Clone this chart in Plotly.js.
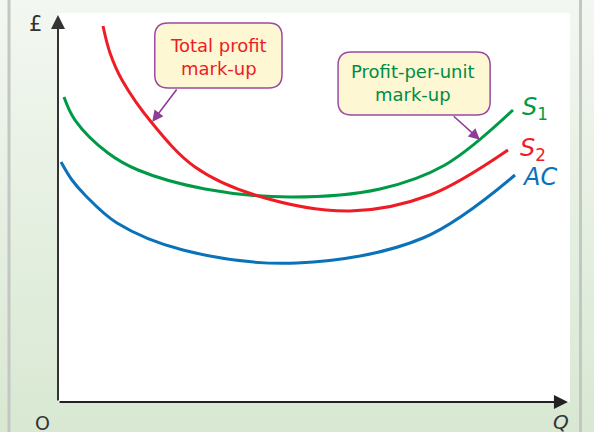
<!DOCTYPE html>
<html>
<head>
<meta charset="utf-8">
<script src="https://cdn.plot.ly/plotly-3.0.1.min.js"></script>
<style>
  body { margin: 0; background: #f6f8f5; }
  #chart { width: 594px; height: 432px; background: linear-gradient(to bottom, #f3f7f1, #d8e8d2); }
</style>
</head>
<body>
<div id="chart"></div>
<script>
// curve points (Q on x, £ on y, both 0-100)
var qS1 = [1.17, 3.32, 9.77, 15.63, 28.71, 45.31, 62.89, 75.59, 88.87];
var pS1 = [78.41, 72.49, 64.01, 59.64, 54.76, 52.70, 54.76, 60.93, 75.06];

var qS2 = [8.79, 10.16, 12.50, 18.36, 26.76, 38.48, 57.03, 72.66, 87.89];
var pS2 = [96.66, 89.72, 82.78, 71.72, 60.41, 53.21, 49.10, 53.21, 64.78];

var qAC = [0.59, 2.73, 5.27, 11.52, 24.41, 46.68, 71.29, 89.26];
var pAC = [61.70, 57.07, 53.21, 46.02, 39.07, 35.73, 42.16, 58.35];

var curveNames = ["S", "S", "AC"];
var curveSubs = ["1", "2", ""];
var curveColors = ["#009a46", "#ee1c25", "#0a72b8"];
var calloutText = ["Total profit<br>mark-up", "Profit-per-unit<br>mark-up"];
var calloutColors = ["#ee1c25", "#008c45"];

var purple = "#8e3d97";

function roundRect(x0, x1, y0, y1, rx, ry) {
  return "M" + (x0 + rx) + "," + y1 +
    " L" + (x1 - rx) + "," + y1 +
    " Q" + x1 + "," + y1 + " " + x1 + "," + (y1 - ry) +
    " L" + x1 + "," + (y0 + ry) +
    " Q" + x1 + "," + y0 + " " + (x1 - rx) + "," + y0 +
    " L" + (x0 + rx) + "," + y0 +
    " Q" + x0 + "," + y0 + " " + x0 + "," + (y0 + ry) +
    " L" + x0 + "," + (y1 - ry) +
    " Q" + x0 + "," + y1 + " " + (x0 + rx) + "," + y1 + " Z";
}

function curveLabel(i) {
  var t = "<i>" + curveNames[i] + "</i>";
  if (curveSubs[i]) t += "<sub>" + curveSubs[i] + "</sub>";
  return t;
}

var traces = [
  {x: qS1, y: pS1, mode: "lines", line: {color: curveColors[0], width: 3, shape: "spline", smoothing: 1}},
  {x: qS2, y: pS2, mode: "lines", line: {color: curveColors[1], width: 3, shape: "spline", smoothing: 1}},
  {x: qAC, y: pAC, mode: "lines", line: {color: curveColors[2], width: 3, shape: "spline", smoothing: 1}}
];

var font = "DejaVu Sans, sans-serif";

var annotations = [
  // axes with arrow heads
  {x: 0, y: 99.5, ax: 0, ay: 0, xref: "x", yref: "y", axref: "x", ayref: "y", text: "",
   showarrow: true, arrowhead: 2, arrowsize: 1.4, arrowwidth: 2, arrowcolor: "#333", standoff: 0},
  {x: 99.6, y: 0, ax: 0, ay: 0, xref: "x", yref: "y", axref: "x", ayref: "y", text: "",
   showarrow: true, arrowhead: 2, arrowsize: 1.4, arrowwidth: 2, arrowcolor: "#222", standoff: 0},
  // axis labels
  {x: -0.043, y: 0.972, xref: "paper", yref: "paper", text: "£", showarrow: false,
   xanchor: "center", yanchor: "middle", font: {family: font, size: 21, color: "#333"}},
  {x: -0.031, y: -0.055, xref: "paper", yref: "paper", text: "O", showarrow: false,
   xanchor: "center", yanchor: "middle", font: {family: font, size: 19, color: "#333"}},
  {x: 0.982, y: -0.052, xref: "paper", yref: "paper", text: "<i>Q</i>", showarrow: false,
   xanchor: "center", yanchor: "middle", font: {family: font, size: 20, color: "#333"}},
  // curve labels
  {x: 90.2, y: 75.4, xref: "x", yref: "y", text: curveLabel(0), showarrow: false,
   xanchor: "left", yanchor: "middle", font: {family: font, size: 24, color: curveColors[0]}},
  {x: 89.8, y: 64.8, xref: "x", yref: "y", text: curveLabel(1), showarrow: false,
   xanchor: "left", yanchor: "middle", font: {family: font, size: 24, color: curveColors[1]}},
  {x: 90.2, y: 57.8, xref: "x", yref: "y", text: curveLabel(2), showarrow: false,
   xanchor: "left", yanchor: "middle", font: {family: font, size: 24, color: curveColors[2]}},
  // callout texts
  {x: 31.3, y: 88.8, xref: "x", yref: "y", text: calloutText[0], showarrow: false,
   font: {family: font, size: 18, color: calloutColors[0]}},
  {x: 69.3, y: 82.0, xref: "x", yref: "y", text: calloutText[1], showarrow: false,
   font: {family: font, size: 18, color: calloutColors[1]}},
  // callout arrows
  {x: 18.4, y: 72.0, ax: 23.4, ay: 80.7, xref: "x", yref: "y", axref: "x", ayref: "y", text: "",
   showarrow: true, arrowhead: 2, arrowsize: 1.4, arrowwidth: 1.6, arrowcolor: purple, standoff: 0},
  {x: 82.4, y: 67.4, ax: 77.0, ay: 73.8, xref: "x", yref: "y", axref: "x", ayref: "y", text: "",
   showarrow: true, arrowhead: 2, arrowsize: 1.4, arrowwidth: 1.6, arrowcolor: purple, standoff: 0}
];

var shapes = [
  // frame edges of the figure panel
  {type: "line", xref: "paper", yref: "paper", x0: -0.0957, x1: -0.0957, y0: -0.1, y1: 1.1,
   line: {color: "#c4c6c3", width: 3}},
  {type: "line", xref: "paper", yref: "paper", x0: 1.0205, x1: 1.0205, y0: -0.1, y1: 1.1,
   line: {color: "#c4c6c3", width: 3}},
  // callout boxes
  {type: "path", xref: "x", yref: "y", path: roundRect(18.9, 43.75, 80.7, 97.4, 2.6, 3.4),
   fillcolor: "#fdf7d3", line: {color: "#9a4aa0", width: 1.5}, layer: "above"},
  {type: "path", xref: "x", yref: "y", path: roundRect(54.7, 84.4, 73.8, 90.0, 2.6, 3.4),
   fillcolor: "#fdf7d3", line: {color: "#9a4aa0", width: 1.5}, layer: "above"}
];

var layout = {
  width: 594,
  height: 432,
  margin: {l: 58, r: 24, t: 13, b: 30},
  paper_bgcolor: "rgba(0,0,0,0)",
  plot_bgcolor: "#ffffff",
  showlegend: false,
  xaxis: {range: [0, 100], showgrid: false, zeroline: false, showline: false, showticklabels: false, ticks: ""},
  yaxis: {range: [0, 100], showgrid: false, zeroline: false, showline: false, showticklabels: false, ticks: ""},
  shapes: shapes,
  annotations: annotations
};

Plotly.newPlot("chart", traces, layout, {displayModeBar: false, staticPlot: true});
</script>
</body>
</html>
